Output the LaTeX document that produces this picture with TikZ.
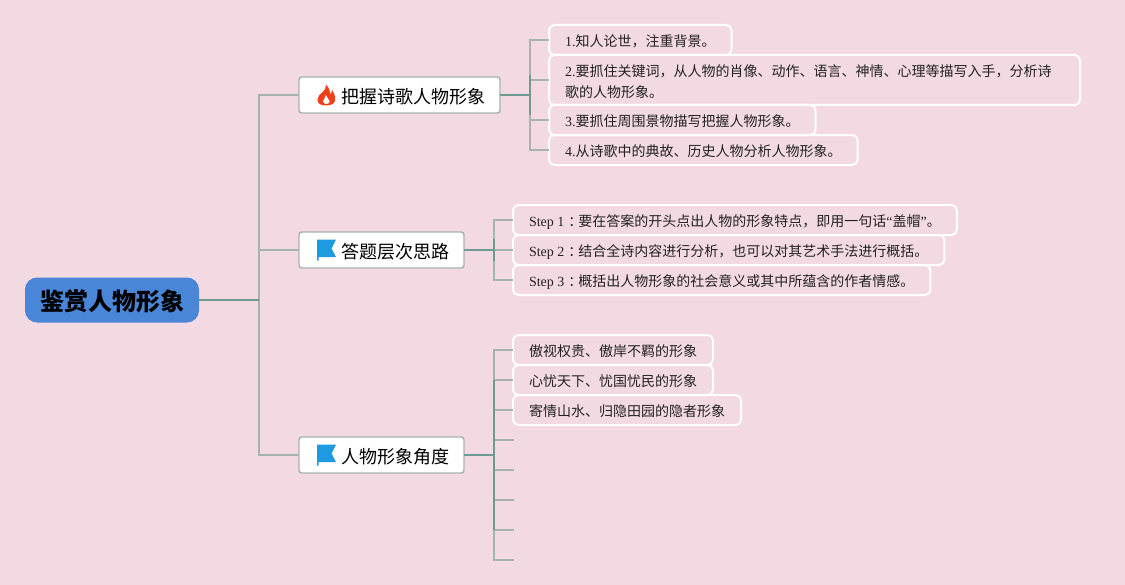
\documentclass[tikz,border=0pt]{standalone}
\usepackage{fontspec}
\setmainfont{Liberation Serif}
\newfontfamily\cjk{Noto Sans CJK SC}
\usetikzlibrary{positioning}
\definecolor{pagebg}{HTML}{F3D9E1}
\definecolor{rootblue}{HTML}{4A86D8}
\definecolor{linedark}{HTML}{6F9A8F}
\definecolor{linelight}{HTML}{A5B5AE}
\definecolor{flagblue}{HTML}{1E9BE0}
\definecolor{flamered}{HTML}{F0401A}
\definecolor{leafink}{HTML}{222222}
\newcommand{\zh}[1]{{\cjk #1}}
\newcommand{\stepcolon}{\kern3pt\zh{：}\kern-3pt}
\begin{document}
\begin{tikzpicture}[x=0.75pt,y=-0.75pt,every node/.style={outer sep=0pt},
 rootnode/.style={fill=rootblue,rounded corners=9pt,font=\fontsize{18}{22}\cjk\bfseries,minimum width=130.5pt,minimum height=33.75pt,inner sep=0pt,text height=17.5pt,text depth=2pt},
 branch/.style={draw=linelight,fill=white,line width=1.1pt,rounded corners=2pt,minimum height=27pt,inner sep=0pt,anchor=west},
 branchtext/.style={anchor=west,font=\fontsize{13.5}{16}\cjk,inner sep=0pt},
 leaf/.style={draw=white,line width=1.5pt,rounded corners=4pt,font=\fontsize{10.5}{15}\selectfont,text=leafink,align=left,inner xsep=12pt,inner ysep=0pt,minimum height=22.5pt,anchor=west,text height=10.5pt,text depth=1.2pt},
 stem/.style={draw=linedark,line width=1.3pt},
 twig/.style={draw=linelight,line width=1.1pt}]
\useasboundingbox (0,0) rectangle (1125,585);
\fill[pagebg] (0,0) rectangle (1125,585);

\node[rootnode] (root) at (112,300) {\kern1.5pt 鉴赏人物形象};

\node[branch,minimum width=150.75pt] (b1) at (299,95) {};
\node[branch,minimum width=123.75pt] (b2) at (299,250) {};
\node[branch,minimum width=123.75pt] (b3) at (299,455) {};
\node[branchtext] (t1) at (341,97) {把握诗歌人物形象};
\node[branchtext] (t2) at (341,252) {答题层次思路};
\node[branchtext] (t3) at (341,457) {人物形象角度};

% flame
\fill[flamered] (326,85) .. controls (327,91) and (318,94) .. (317.5,99) .. controls (317,103) and (320,105.5) .. (326,105.5)
 .. controls (332,105.5) and (336,103) .. (335,98) .. controls (335,94) and (333,92) .. (332,90)
 .. controls (332,92) and (331,94) .. (330,94) .. controls (330,91) and (329,87) .. (326,85) -- cycle;
\fill[white] (326,95) .. controls (326,98) and (323,99) .. (323,101.5) .. controls (323,103) and (325,104) .. (326.5,104)
 .. controls (329,104) and (330,102.5) .. (329.5,101) .. controls (329,99.5) and (327,98) .. (326,95) -- cycle;
% flags
\foreach \fy in {239.5,444.5}{
 \fill[flagblue] (317,\fy) -- (336,\fy) -- (331.5,\fy+9) -- (336,\fy+17.5) -- (318.5,\fy+17.5) -- (318.5,\fy+21) -- (317,\fy+21) -- cycle;
}

\node[leaf] (a1) at (549,40) {1.\zh{知人论世，注重背景。}};
\node[leaf,minimum height=37.5pt,text width=374.25pt,text height=10pt,text depth=15.6pt] (a2) at (549,80) {2.\zh{要抓住关键词，从人物的肖像、动作、语言、神情、心理等描写入手，分析诗}\\[0.75pt]\zh{歌的人物形象。}};
\node[leaf] (a3) at (549,120) {3.\zh{要抓住周围景物描写把握人物形象。}};
\node[leaf] (a4) at (549,150) {4.\zh{从诗歌中的典故、历史人物分析人物形象。}};

\node[leaf] (s1) at (513,220) {Step 1\stepcolon\zh{要在答案的开头点出人物的形象特点，即用一句话}“\zh{盖帽}”\zh{。}};
\node[leaf] (s2) at (513,250) {Step 2\stepcolon\zh{结合全诗内容进行分析，也可以对其艺术手法进行概括。}};
\node[leaf] (s3) at (513,280) {Step 3\stepcolon\zh{概括出人物形象的社会意义或其中所蕴含的作者情感。}};

\node[leaf] (c1) at (513,350) {\zh{傲视权贵、傲岸不羁的形象}};
\node[leaf] (c2) at (513,380) {\zh{心忧天下、忧国忧民的形象}};
\node[leaf] (c3) at (513,410) {\zh{寄情山水、归隐田园的隐者形象}};

\coordinate (bus0) at (259,300);
\coordinate (bus1) at (530,95);
\coordinate (bus2) at (494,250);
\coordinate (bus3) at (494,455);
\coordinate (e4) at (514,440);
\coordinate (e5) at (514,470);
\coordinate (e6) at (514,500);
\coordinate (e7) at (514,530);
\coordinate (e8) at (514,560);

\draw[twig] (bus0) |- (b1.west);
\draw[twig] (bus0) |- (b2.west);
\draw[twig] (bus0) |- (b3.west);
\foreach \leafname in {a1,a2,a3,a4}{\draw[twig] (bus1) |- (\leafname.west);}
\foreach \leafname in {s1,s2,s3}{\draw[twig] (bus2) |- (\leafname.west);}
\foreach \leafname in {c1,c2,c3,e4,e5,e6,e7,e8}{\draw[twig] (bus3) |- (\leafname);}
\draw[stem] (root.east) -- (bus0);
\draw[stem] (b1.east) -- (bus1);
\draw[stem] (b2.east) -- (bus2);
\draw[stem] (b3.east) -- (bus3);
% darker part of the buses
\draw[stem,line width=1.1pt] ([yshift=15pt]bus1) -- ([yshift=-15pt]bus1);
\draw[stem,line width=1.1pt] ([yshift=8pt]bus2) -- ([yshift=-8pt]bus2);
\draw[stem,line width=1.1pt] ([yshift=56pt]bus3) -- ([yshift=-56pt]bus3);
\end{tikzpicture}
\end{document}
